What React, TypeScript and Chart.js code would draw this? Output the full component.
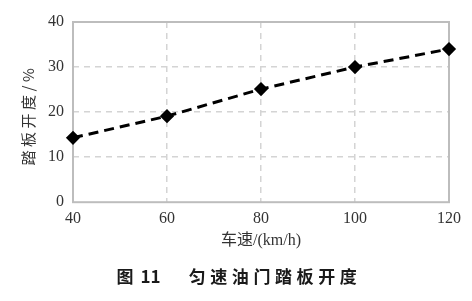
import React, { useEffect, useRef } from "react";
import { Chart, registerables } from "chart.js";

Chart.register(...registerables);

const speeds = [40, 60, 80, 100, 120];
const pedal = [14.3, 19.1, 25.1, 30.0, 34.0];
const yTicks = [0, 10, 20, 30, 40];
const xTitle = "车速/(km/h)";
const yTitle = "踏板开度/%";
const captionNum = "图";
const captionNo = "11";
const captionText = "匀速油门踏板开度";

const GRID = "#d4d4d4";
const BOX = "#bdbdbd";
const TEXT = "#333333";
const FONT = "'Liberation Serif', 'Noto Sans CJK SC', serif";

export default function App() {
  const ref = useRef<HTMLCanvasElement | null>(null);

  useEffect(() => {
    if (!ref.current) return;
    const boxPlugin = {
      id: "boxPlugin",
      beforeDatasetsDraw(chart: any) {
        const { ctx, chartArea: a } = chart;
        ctx.save();
        ctx.strokeStyle = BOX;
        ctx.lineWidth = 2;
        ctx.setLineDash([]);
        ctx.strokeRect(a.left, a.top, a.right - a.left, a.bottom - a.top);
        ctx.restore();
      },
      afterDraw(chart: any) {
        const { ctx, chartArea: a } = chart;
        ctx.save();
        ctx.translate(28, (a.top + a.bottom) / 2 + 3);
        ctx.rotate(-Math.PI / 2);
        ctx.font = "15px 'Noto Sans CJK SC', sans-serif";
        (ctx as any).letterSpacing = "3.5px";
        ctx.fillStyle = TEXT;
        ctx.textAlign = "center";
        ctx.textBaseline = "middle";
        ctx.fillText(yTitle, 0, 0);
        ctx.restore();
      },
    };

    const chart = new Chart(ref.current, {
      type: "line",
      data: {
        datasets: [
          {
            data: speeds.map((s, i) => ({ x: s, y: pedal[i] })),
            borderColor: "#000000",
            backgroundColor: "#000000",
            borderWidth: 3,
            borderDash: [10, 6],
            pointStyle: "rectRot",
            pointRadius: 5,
            pointBackgroundColor: "#000000",
            pointBorderColor: "#000000",
            tension: 0,
            clip: false as any,
          },
        ],
      },
      options: {
        animation: false,
        responsive: false,
        maintainAspectRatio: false,
        layout: { padding: { left: 39, right: 23, top: 22, bottom: 51 } },
        plugins: {
          legend: { display: false },
          tooltip: { enabled: false },
          title: { display: false },
        },
        scales: {
          x: {
            type: "linear",
            min: 40,
            max: 120,
            afterBuildTicks: (axis: any) => {
              axis.ticks = speeds.map((v) => ({ value: v }));
            },
            grid: {
              drawTicks: false,
              color: (c: any) =>
                c.tick && (c.tick.value === 40 || c.tick.value === 120) ? "rgba(0,0,0,0)" : GRID,
              lineWidth: 1.5,
            },
            border: { display: false, dash: [6, 5] },
            ticks: {
              padding: 7,
              color: TEXT,
              font: { family: FONT, size: 16 },
              maxRotation: 0,
            },
            title: {
              display: true,
              text: xTitle,
              color: TEXT,
              font: { family: FONT, size: 16, lineHeight: 1.1 },
              padding: { top: -3, bottom: 0 },
            },
          },
          y: {
            min: 0,
            max: 40,
            afterBuildTicks: (axis: any) => {
              axis.ticks = yTicks.map((v) => ({ value: v }));
            },
            grid: {
              drawTicks: false,
              color: (c: any) =>
                c.tick && (c.tick.value === 0 || c.tick.value === 40) ? "rgba(0,0,0,0)" : GRID,
              lineWidth: 1.5,
            },
            border: { display: false, dash: [6, 5] },
            ticks: {
              padding: 9,
              color: TEXT,
              font: { family: FONT, size: 16 },
            },
          },
        },
      },
      plugins: [boxPlugin],
    });
    return () => chart.destroy();
  }, []);

  return (
    <div style={{ position: "fixed", left: 0, top: 0, width: 472, height: 301, background: "#fff" }}>
      <canvas ref={ref} width={472} height={301} style={{ display: "block", width: 472, height: 301 }} />
      <div
        style={{
          position: "absolute",
          top: 264,
          left: 0,
          width: 472,
          textAlign: "center",
          fontFamily: "'Noto Sans CJK SC', sans-serif",
          fontWeight: 700,
          fontSize: 17,
          lineHeight: "24px",
          color: "#1a1a1a",
          whiteSpace: "nowrap",
        }}
      >
        <span style={{ paddingLeft: 6 }}>{captionNum}</span>
        <span style={{ marginLeft: 7 }}>{captionNo}</span>
        <span style={{ marginLeft: 28, letterSpacing: 4.6 }}>{captionText}</span>
      </div>
    </div>
  );
}
